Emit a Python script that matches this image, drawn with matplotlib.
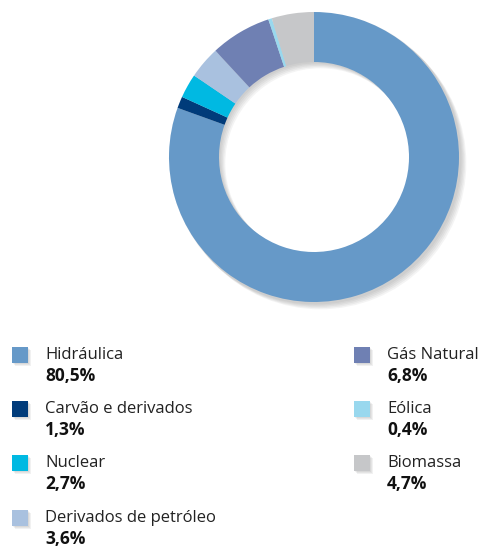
import matplotlib.pyplot as plt
from matplotlib.patches import Wedge, Rectangle

# Data
labels = ["Hidráulica", "Carvão e derivados", "Nuclear", "Derivados de petróleo",
          "Gás Natural", "Eólica", "Biomassa"]
values = [80.5, 1.3, 2.7, 3.6, 6.8, 0.4, 4.7]
pct_text = ["80,5%", "1,3%", "2,7%", "3,6%", "6,8%", "0,4%", "4,7%"]
colors = ["#6699c8", "#003b7a", "#00b9e2", "#a9c1df", "#6f80b3", "#99d8ee", "#c6c7c9"]

plt.rcParams['font.family'] = ['Open Sans', 'DejaVu Sans']

W, H = 481, 549
fig = plt.figure(figsize=(W / 100, H / 100), dpi=100)
ax = fig.add_axes([0, 0, 1, 1])

cx, cy, R = 314, H - 157, 145
width = 50

# soft shadow behind the ring
for i in range(5):
    off = 1.5 + i * 1.2
    ax.add_patch(Wedge((cx + off, cy - off), R + 1, 0, 360, width=width + 1,
                       facecolor='#666666', edgecolor='none', alpha=0.07, zorder=0))

ax.pie(values, colors=colors, startangle=90, counterclock=False,
       center=(cx, cy), radius=R, frame=True,
       wedgeprops=dict(width=width, edgecolor='none'))

ax.set_xlim(0, W)
ax.set_ylim(0, H)
ax.axis('off')

# legend
left_rows = [355, 409, 463, 518]
rows = [(12, y) for y in left_rows] + [(354, y) for y in left_rows[:3]]
for (x, y), lab, pct, col in zip(rows, labels, pct_text, colors):
    for k in range(3):
        ax.add_patch(Rectangle((x + 1 + k, H - y - 9 - k), 16, 16, facecolor='#777777',
                               alpha=0.1, edgecolor='none', zorder=2))
    ax.add_patch(Rectangle((x, H - y - 8), 16, 16, facecolor=col,
                           edgecolor='none', zorder=3))
    ax.text(x + 33, H - y, lab, fontsize=12, color='#222222', va='center', ha='left')
    ax.text(x + 33, H - y - 21, pct, fontsize=12.5, fontweight='bold',
            color='#111111', va='center', ha='left')

fig.savefig('out.png', dpi=100)
